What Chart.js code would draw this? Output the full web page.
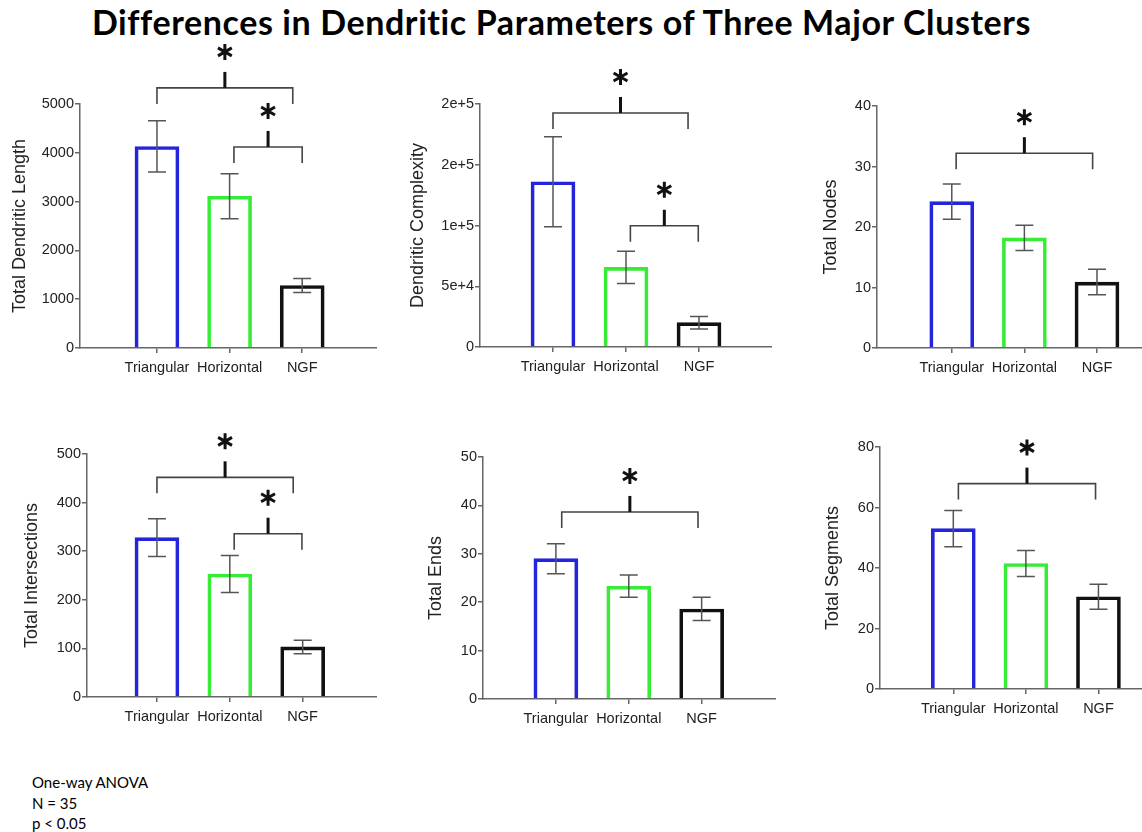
<!DOCTYPE html>
<html lang="en">
<head>
    <meta charset="UTF-8">
    <title>Differences in Dendritic Parameters of Three Major Clusters</title>
    <script src="https://cdn.jsdelivr.net/npm/chart.js"></script>
    <style>
        html, body {
            margin: 0;
            padding: 0;
            background: #fff;
            overflow: hidden;
        }
        body {
            width: 1142px;
            height: 832px;
            position: relative;
        }
        .main-title {
            position: absolute;
            left: 0;
            top: 1px;
            width: 1123px;
            text-align: center;
            font-family: Lato, 'Liberation Sans', sans-serif;
            font-weight: 700;
            font-size: 34px;
            letter-spacing: 0.6px;
            color: #000;
        }
        .stats-note {
            position: absolute;
            left: 32px;
            top: 772px;
            font-family: Lato, 'Liberation Sans', sans-serif;
            font-size: 15px;
            line-height: 20.5px;
            color: #000;
        }
        canvas.panel {
            position: absolute;
        }
    </style>
</head>
<body>
    <div class="main-title">Differences in Dendritic Parameters of Three Major Clusters</div>
    <div class="stats-note">One-way ANOVA<br>N = 35<br>p &lt; 0.05</div>

    <canvas class="panel" id="lengthChart"></canvas>
    <canvas class="panel" id="complexityChart"></canvas>
    <canvas class="panel" id="nodesChart"></canvas>
    <canvas class="panel" id="intersectionsChart"></canvas>
    <canvas class="panel" id="endsChart"></canvas>
    <canvas class="panel" id="segmentsChart"></canvas>

    <script>
        // Groups
        const categories = ['Triangular', 'Horizontal', 'NGF'];

        // Means and error bars
        const lengthMeans = [4130, 3110, 1280];
        const lengthErrors = [525, 460, 145];
        const complexityMeans = [136000, 65500, 20000];
        const complexityErrors = [37000, 13300, 5200];
        const nodesMeans = [24.2, 18.2, 10.9];
        const nodesErrors = [2.9, 2.1, 2.1];
        const intersectionsMeans = [328, 253, 103];
        const intersectionsErrors = [39, 38, 14];
        const endsMeans = [29.0, 23.3, 18.6];
        const endsErrors = [3.1, 2.3, 2.4];
        const segmentsMeans = [53.0, 41.5, 30.5];
        const segmentsErrors = [6.0, 4.3, 4.1];

        // Y tick values and their printed labels
        const lengthTicks = [0, 1000, 2000, 3000, 4000, 5000];
        const lengthTickLabels = ['0', '1000', '2000', '3000', '4000', '5000'];
        const complexityTicks = [0, 50000, 100000, 150000, 200000];
        const complexityTickLabels = ['0', '5e+4', '1e+5', '2e+5', '2e+5'];
        const nodesTicks = [0, 10, 20, 30, 40];
        const nodesTickLabels = ['0', '10', '20', '30', '40'];
        const intersectionsTicks = [0, 100, 200, 300, 400, 500];
        const intersectionsTickLabels = ['0', '100', '200', '300', '400', '500'];
        const endsTicks = [0, 10, 20, 30, 40, 50];
        const endsTickLabels = ['0', '10', '20', '30', '40', '50'];
        const segmentsTicks = [0, 20, 40, 60, 80];
        const segmentsTickLabels = ['0', '20', '40', '60', '80'];

        const barColors = ['#2424dc', '#36ec36', '#111111'];
        const TOP_PAD = 72;
        const X_AXIS_H = 40;
        const FONT = "'Liberation Sans', Arial, sans-serif";

        // Panel layout: plot box on the page, x range, and significance brackets
        const panels = [
            { id: 'lengthChart', title: 'Total Dendritic Length', means: lengthMeans, errors: lengthErrors,
              ticks: lengthTicks, tickLabels: lengthTickLabels,
              axisX: 80, plotTop: 104, plotBottom: 348, plotRight: 377, titleGap: 60, xMin: -1.06, xMax: 3.03,
              brackets: [{ from: 0, to: 1.87, level: 5330 }, { from: 1.06, to: 2, level: 4120 }] },
            { id: 'complexityChart', title: 'Dendritic Complexity', means: complexityMeans, errors: complexityErrors,
              ticks: complexityTicks, tickLabels: complexityTickLabels,
              axisX: 480, plotTop: 104, plotBottom: 347, plotRight: 772, titleGap: 62, xMin: -1.0, xMax: 3.0,
              brackets: [{ from: 0, to: 1.85, level: 192600 }, { from: 1.06, to: 1.99, level: 99800 }] },
            { id: 'nodesChart', title: 'Total Nodes', means: nodesMeans, errors: nodesErrors,
              ticks: nodesTicks, tickLabels: nodesTickLabels,
              axisX: 877, plotTop: 106, plotBottom: 348, plotRight: 1142, titleGap: 46, xMin: -1.03, xMax: 2.62,
              brackets: [{ from: 0.06, to: 1.94, level: 32.2 }] },
            { id: 'intersectionsChart', title: 'Total Intersections', means: intersectionsMeans, errors: intersectionsErrors,
              ticks: intersectionsTicks, tickLabels: intersectionsTickLabels,
              axisX: 87, plotTop: 454, plotBottom: 697, plotRight: 377, titleGap: 55, xMin: -0.96, xMax: 3.02,
              brackets: [{ from: 0, to: 1.87, level: 452 }, { from: 1.06, to: 1.99, level: 336 }] },
            { id: 'endsChart', title: 'Total Ends', means: endsMeans, errors: endsErrors,
              ticks: endsTicks, tickLabels: endsTickLabels,
              axisX: 483, plotTop: 457, plotBottom: 699, plotRight: 776, titleGap: 47, xMin: -1.0, xMax: 3.02,
              brackets: [{ from: 0.08, to: 1.95, level: 38.65 }] },
            { id: 'segmentsChart', title: 'Total Segments', means: segmentsMeans, errors: segmentsErrors,
              ticks: segmentsTicks, tickLabels: segmentsTickLabels,
              axisX: 880, plotTop: 447, plotBottom: 689, plotRight: 1142, titleGap: 47, xMin: -1.01, xMax: 2.6,
              brackets: [{ from: 0.07, to: 1.96, level: 67.9 }] }
        ];

        // Draws error bars and significance brackets with asterisks
        function makeAnnotations(p) {
            return {
                id: 'annotations_' + p.id,
                afterDatasetsDraw(chart) {
                    const ctx = chart.ctx;
                    const xs = chart.scales.x;
                    const ys = chart.scales.y;
                    ctx.save();

                    // error bars
                    ctx.strokeStyle = '#555';
                    ctx.lineWidth = 1.5;
                    p.means.forEach((m, i) => {
                        const px = xs.getPixelForValue(i);
                        const top = ys.getPixelForValue(m + p.errors[i]);
                        const bot = ys.getPixelForValue(m - p.errors[i]);
                        ctx.beginPath();
                        ctx.moveTo(px, top); ctx.lineTo(px, bot);
                        ctx.moveTo(px - 9, top); ctx.lineTo(px + 9, top);
                        ctx.moveTo(px - 9, bot); ctx.lineTo(px + 9, bot);
                        ctx.stroke();
                    });

                    // brackets
                    p.brackets.forEach(b => {
                        const x1 = xs.getPixelForValue(b.from);
                        const x2 = xs.getPixelForValue(b.to);
                        const y = ys.getPixelForValue(b.level);
                        const xm = (x1 + x2) / 2;
                        ctx.strokeStyle = '#444';
                        ctx.lineWidth = 1.6;
                        ctx.beginPath();
                        ctx.moveTo(x1, y + 16);
                        ctx.lineTo(x1, y);
                        ctx.lineTo(x2, y);
                        ctx.lineTo(x2, y + 16);
                        ctx.stroke();

                        ctx.strokeStyle = '#111';
                        ctx.lineWidth = 3;
                        ctx.beginPath();
                        ctx.moveTo(xm, y);
                        ctx.lineTo(xm, y - 16);
                        ctx.stroke();

                        // asterisk
                        const cy = y - 36;
                        const r = 8;
                        ctx.lineWidth = 3;
                        ctx.beginPath();
                        [90, 30, 150].forEach(deg => {
                            const a = deg * Math.PI / 180;
                            ctx.moveTo(xm - r * Math.cos(a), cy - r * Math.sin(a));
                            ctx.lineTo(xm + r * Math.cos(a), cy + r * Math.sin(a));
                        });
                        ctx.stroke();
                    });
                    ctx.restore();
                }
            };
        }

        function buildPanel(p) {
            const canvas = document.getElementById(p.id);
            const yw = p.titleGap + 15;
            const left = Math.round(p.axisX - yw);
            const top = Math.round(p.plotTop - TOP_PAD);
            const width = Math.round(p.plotRight - p.axisX + yw);
            const height = Math.round(TOP_PAD + (p.plotBottom - p.plotTop) + X_AXIS_H);
            canvas.width = width;
            canvas.height = height;
            canvas.style.left = left + 'px';
            canvas.style.top = top + 'px';
            canvas.style.width = width + 'px';
            canvas.style.height = height + 'px';

            const axisGrid = { drawOnChartArea: false, drawTicks: true, tickLength: 5, color: '#666', lineWidth: 1.5, offset: false };
            const axisBorder = { display: true, color: '#666', width: 1.5 };

            new Chart(canvas, {
                type: 'bar',
                data: {
                    datasets: [{
                        data: p.means.map((v, i) => ({ x: i, y: v })),
                        backgroundColor: 'rgba(255,255,255,0)',
                        borderColor: barColors,
                        borderWidth: 3,
                        barThickness: 44
                    }]
                },
                options: {
                    responsive: false,
                    animation: false,
                    layout: { padding: { top: TOP_PAD, right: 0, bottom: 0, left: 0 } },
                    plugins: {
                        legend: { display: false },
                        tooltip: { enabled: false }
                    },
                    scales: {
                        x: {
                            type: 'linear',
                            min: p.xMin,
                            max: p.xMax,
                            offset: false,
                            afterBuildTicks: s => { s.ticks = categories.map((_, i) => ({ value: i })); },
                            afterFit: s => { s.height = X_AXIS_H; },
                            ticks: {
                                callback: v => categories[v],
                                color: '#222',
                                font: { family: FONT, size: 14.5 },
                                padding: 6,
                                maxRotation: 0,
                                autoSkip: false
                            },
                            grid: axisGrid,
                            border: axisBorder
                        },
                        y: {
                            min: 0,
                            max: p.ticks[p.ticks.length - 1],
                            afterBuildTicks: s => { s.ticks = p.ticks.map(v => ({ value: v })); },
                            afterFit: s => { s.width = yw; },
                            ticks: {
                                callback: (v, i) => p.tickLabels[i],
                                color: '#222',
                                font: { family: FONT, size: 14.5 },
                                padding: 1,
                                autoSkip: false
                            },
                            title: {
                                display: true,
                                text: p.title,
                                color: '#222',
                                font: { family: FONT, size: 18 },
                                padding: { top: 4, bottom: 4 }
                            },
                            grid: axisGrid,
                            border: axisBorder
                        }
                    }
                },
                plugins: [makeAnnotations(p)]
            });
        }

        panels.forEach(buildPanel);
    </script>
</body>
</html>
